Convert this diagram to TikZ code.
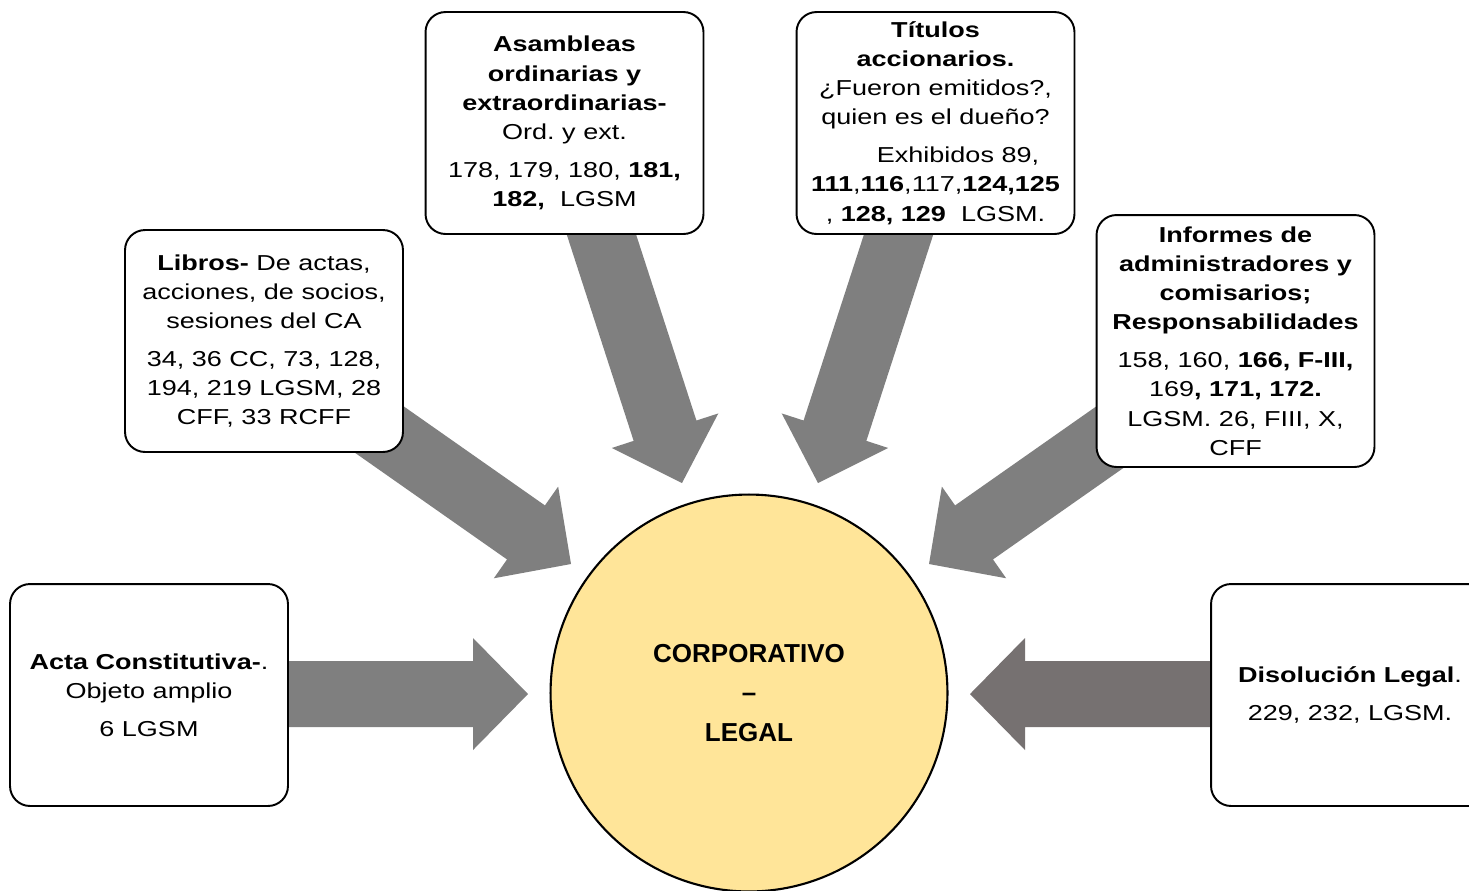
\documentclass[tikz,border=0pt]{standalone}
\usepackage{fontspec}
\setmainfont{Liberation Sans}[FakeStretch=1.25]
\newfontfamily\hubfont{Liberation Sans}
\usetikzlibrary{calc,backgrounds}
\frenchspacing
\definecolor{hubfill}{RGB}{255,229,153}
\definecolor{arrgray}{RGB}{127,127,127}
\definecolor{arrdark}{RGB}{118,113,113}
\newcommand{\blockarrow}[3][arrgray]{%
  \fill[#1] ($(#2)!0.66cm!90:(#3)$) -- ($(#3)!1.283cm!-30.96:(#2)$) -- ($(#3)!1.57cm!-45.52:(#2)$)
    -- (#3) -- ($(#3)!1.57cm!45.52:(#2)$) -- ($(#3)!1.283cm!30.96:(#2)$) -- ($(#2)!0.66cm!-90:(#3)$) -- cycle;}

\begin{document}
\begin{tikzpicture}[x=0.02cm,y=-0.02cm,
  box/.style={draw,line width=1.1pt,rounded corners=0.4cm,fill=white,align=center,
    minimum width=5.56cm,minimum height=4.44cm,inner sep=0pt,font=\fontsize{12.3}{16.6}\selectfont},
  hub/.style={circle,draw,line width=1.2pt,fill=hubfill,minimum size=7.94cm,align=center,
    font=\hubfont\bfseries\fontsize{14.8}{22.7}\selectfont}]
\useasboundingbox (0,0) rectangle (1469,890);
\node[hub] (core) at (749,693) {CORPORATIVO\\–\\LEGAL};
\node[box] (asam) at (564.5,123) {\textbf{Asambleas}\\\textbf{ordinarias y}\\\textbf{extraordinarias-}\\Ord. y ext.\\[5pt]
  178, 179, 180, \textbf{181,}\\\textbf{182,}~ LGSM};
\node[box] (titu) at (935.5,123) {\textbf{Títulos}\\\textbf{accionarios.}\\¿Fueron emitidos?,\\quien es el dueño?\\[5pt]
  \hspace*{0.9cm}Exhibidos 89,\\\textbf{111},\textbf{116},117,\textbf{124,125}\\, \textbf{128, 129}~ LGSM.};
\node[box] (libr) at (264,341) {\textbf{Libros-} De actas,\\acciones, de socios,\\sesiones del CA\\[5pt]
  34, 36 CC, 73, 128,\\194, 219 LGSM, 28\\CFF, 33 RCFF};
\node[box,minimum height=5.04cm] (info) at (1235.5,341) {\textbf{Informes de}\\\textbf{administradores y}\\\textbf{comisarios;}\\\textbf{Responsabilidades}\\[5pt]
  158, 160, \textbf{166, F-III,}\\169\textbf{, 171, 172.}\\LGSM. 26, FIII, X,\\CFF};
\node[box] (acta) at (149,695) {\textbf{Acta Constitutiva-}.\\Objeto amplio\\[5pt]6 LGSM};
\node[box] (diso) at (1350,695) {\textbf{Disolución Legal}.\\[5pt]229, 232, LGSM.};
\coordinate (actaS) at (280,694); \coordinate (actaT) at (528,694);
\coordinate (disoS) at (1220,694); \coordinate (disoT) at (970,694);
\coordinate (librS) at (360,416); \coordinate (librT) at (571,564);
\coordinate (infoS) at (1140,416); \coordinate (infoT) at (929,564);
\coordinate (asamS) at (598,224); \coordinate (asamT) at (682,483);
\coordinate (tituS) at (902,224); \coordinate (tituT) at (818,483);
\begin{pgfonlayer}{background}
\blockarrow{actaS}{actaT}
\blockarrow[arrdark]{disoS}{disoT}
\blockarrow{librS}{librT}
\blockarrow{infoS}{infoT}
\blockarrow{asamS}{asamT}
\blockarrow{tituS}{tituT}
\end{pgfonlayer}
\end{tikzpicture}
\end{document}
